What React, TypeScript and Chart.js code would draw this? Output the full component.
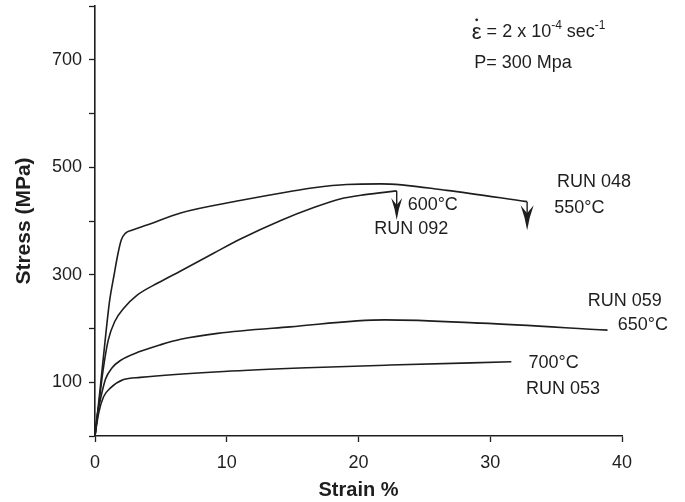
import React, { useEffect, useRef } from 'react';
import { Chart, registerables } from 'chart.js';

Chart.register(...registerables);

// RUN 048 — 550°C
const strain550 = [0, 0.4, 0.8, 1.1, 1.45, 1.75, 2.0, 2.3, 2.8, 4.0, 6.5, 11.0, 14.8, 16.6, 19.1, 21.7, 26.7, 32.8];
const stress550 = [0, 90, 185, 250, 300, 340, 365, 377, 383, 393, 415, 438, 455, 462, 468, 469, 457, 436];
// RUN 092 — 600°C
const strain600 = [0, 0.3, 0.6, 1.0, 1.5, 2.2, 3.2, 4.8, 6.5, 9.0, 11.0, 14.1, 16.5, 18.6, 20.5, 22.9];
const stress600 = [0, 60, 120, 178, 213, 238, 262, 285, 307, 340, 366, 401, 424, 441, 449, 456];
// RUN 059 — 650°C
const strain650 = [0, 0.15, 0.4, 0.8, 1.3, 1.9, 3.4, 5.0, 6.5, 9.3, 14.8, 22.0, 29.3, 38.9];
const stress650 = [0, 36, 67, 106, 127, 140, 157, 170, 180, 191, 203, 216, 210, 197];
// RUN 053 — 700°C
const strain700 = [0, 0.1, 0.3, 0.65, 1.16, 2.17, 3.44, 9.77, 16.1, 22.4, 31.6];
const stress700 = [0, 17, 45, 73, 89, 105, 109, 120, 127, 132, 138];

// fracture arrows (600°C, 550°C): strain, stress of curve end, stress at arrow tip
const arrowStrain = [22.9, 32.8];
const arrowFrom = [456, 436];
const arrowTip = [402, 383];

const xTickValues = [0, 10, 20, 30, 40];
const yLabelValues = [100, 300, 500, 700];

const notes = [
  { text: 'RUN 048', x: 35.07, y: 473 },
  { text: '550°C', x: 34.86, y: 423.6 },
  { text: '600°C', x: 23.73, y: 429.8 },
  { text: 'RUN 092', x: 21.2, y: 385 },
  { text: 'RUN 059', x: 37.4, y: 251 },
  { text: '650°C', x: 39.67, y: 206.5 },
  { text: '700°C', x: 32.91, y: 136.4 },
  { text: 'RUN 053', x: 32.71, y: 87.4 },
  { text: 'P= 300 Mpa', x: 28.79, y: 693.4 },
];
const rateNote = { x: 28.6, y: 752 };

const FONT = "'Liberation Sans', Arial, sans-serif";
const INK = '#1e1e1e';

const pts = (xs: number[], ys: number[]) => xs.map((x, i) => ({ x, y: ys[i] }));

const annotPlugin = {
  id: 'annot',
  afterDatasetsDraw(chart: any) {
    const ctx = chart.ctx;
    const xs = chart.scales.x;
    const ys = chart.scales.y;
    ctx.save();
    ctx.fillStyle = INK;
    // arrow heads
    const heads = [
      { L: 22, W: 5.5 },
      { L: 25, W: 6.5 },
    ];
    arrowStrain.forEach((s, i) => {
      const px = xs.getPixelForValue(s);
      const tip = ys.getPixelForValue(arrowTip[i]);
      const { L, W } = heads[i];
      ctx.beginPath();
      ctx.moveTo(px, tip);
      ctx.quadraticCurveTo(px - W * 0.3, tip - L * 0.5, px - W, tip - L);
      ctx.lineTo(px, tip - L * 0.68);
      ctx.lineTo(px + W, tip - L);
      ctx.quadraticCurveTo(px + W * 0.3, tip - L * 0.5, px, tip);
      ctx.closePath();
      ctx.fill();
    });
    // text notes
    ctx.font = `18px ${FONT}`;
    ctx.textBaseline = 'middle';
    ctx.textAlign = 'left';
    notes.forEach((n) => {
      ctx.fillText(n.text, xs.getPixelForValue(n.x), ys.getPixelForValue(n.y));
    });
    // strain-rate line
    let x = xs.getPixelForValue(rateNote.x);
    const y = ys.getPixelForValue(rateNote.y);
    ctx.font = `22px ${FONT}`;
    ctx.fillText('ε', x, y + 1);
    const ew = ctx.measureText('ε').width;
    ctx.beginPath();
    ctx.arc(x + ew / 2, y - 12, 1.4, 0, Math.PI * 2);
    ctx.fill();
    x += ew;
    const parts: [string, boolean][] = [
      [' = 2 x 10', false],
      ['-4', true],
      [' sec', false],
      ['-1', true],
    ];
    parts.forEach(([t, sup]) => {
      ctx.font = sup ? `12px ${FONT}` : `18px ${FONT}`;
      ctx.fillText(t, x, sup ? y - 6 : y);
      x += ctx.measureText(t).width;
    });
    ctx.restore();
  },
};

export default function App() {
  const ref = useRef<HTMLCanvasElement | null>(null);
  useEffect(() => {
    if (!ref.current) return;
    Chart.defaults.font.family = FONT;
    Chart.defaults.color = INK;
    const line = (xs: number[], ys: number[]) => ({
      data: pts(xs, ys),
      borderColor: INK,
      borderWidth: 1.6,
      pointRadius: 0,
      fill: false,
      cubicInterpolationMode: 'monotone' as const,
    });
    const drop = (i: number) => ({
      data: [
        { x: arrowStrain[i], y: arrowFrom[i] },
        { x: arrowStrain[i], y: arrowTip[i] + 10 },
      ],
      borderColor: INK,
      borderWidth: 1.4,
      pointRadius: 0,
      tension: 0,
      fill: false,
    });
    const chart = new Chart(ref.current, {
      type: 'line',
      data: {
        datasets: [
          line(strain550, stress550),
          line(strain600, stress600),
          line(strain650, stress650),
          line(strain700, stress700),
          drop(0),
          drop(1),
        ],
      },
      options: {
        responsive: false,
        animation: false,
        events: [],
        layout: { padding: { left: 0, top: 6, right: 63, bottom: 0 } },
        plugins: { legend: { display: false }, tooltip: { enabled: false } },
        scales: {
          x: {
            type: 'linear',
            min: 0,
            max: 40,
            afterBuildTicks: (s: any) => {
              s.ticks = xTickValues.map((v) => ({ value: v }));
            },
            afterFit: (s: any) => {
              s.height = 66;
              s.paddingLeft = 0;
              s.paddingRight = 0;
            },
            ticks: { font: { size: 18 }, color: INK, padding: 10, maxRotation: 0 },
            grid: { drawOnChartArea: false, drawTicks: true, tickLength: 6, tickColor: INK, tickWidth: 1.3 },
            border: { display: true, color: INK, width: 1.6 },
            title: { display: true, text: 'Strain %', font: { size: 20, weight: 'bold' }, color: INK, padding: { top: 0, bottom: 0 } },
          },
          y: {
            type: 'linear',
            min: 0,
            max: 800,
            ticks: {
              stepSize: 100,
              font: { size: 18 },
              color: INK,
              padding: 7,
              callback: (v: any) => (yLabelValues.includes(Number(v)) ? String(v) : ''),
            },
            afterFit: (s: any) => {
              s.width = 95;
              s.paddingTop = 0;
              s.paddingBottom = 0;
            },
            grid: { drawOnChartArea: false, drawTicks: true, tickLength: 6, tickColor: INK, tickWidth: 1.3 },
            border: { display: true, color: INK, width: 1.6 },
            title: { display: true, text: 'Stress (MPa)', font: { size: 21, weight: 'bold' }, color: INK, padding: { top: 12, bottom: 0 } },
          },
        },
      },
      plugins: [annotPlugin],
    });
    return () => chart.destroy();
  }, []);
  return (
    <div style={{ position: 'fixed', left: 0, top: 0, width: 685, height: 502, background: '#fff' }}>
      <canvas ref={ref} width={685} height={502} style={{ display: 'block' }} />
    </div>
  );
}
